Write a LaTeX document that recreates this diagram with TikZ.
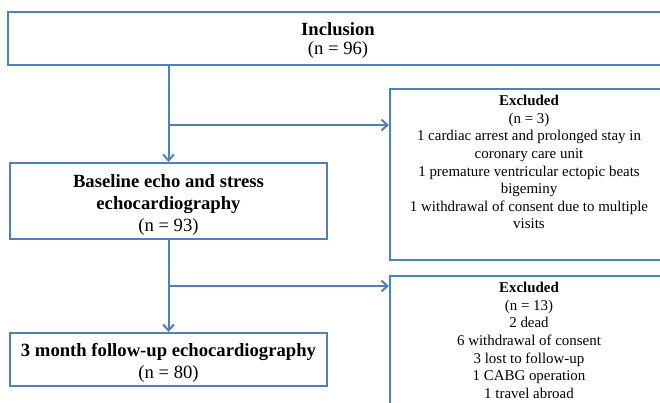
\documentclass[tikz,border=0pt]{standalone}
\usepackage{fontspec}
\setmainfont{Liberation Serif}
\usepackage{xcolor}
\usetikzlibrary{arrows.meta, positioning, calc}
\definecolor{flowblue}{RGB}{79,129,189}

\begin{document}
\begin{tikzpicture}[x=0.75pt, y=-0.75pt,
  box/.style={draw=flowblue, line width=1.5pt, rectangle, align=center, inner ysep=0pt, font=\fontsize{14}{16.5}\selectfont},
  exclbox/.style={draw=flowblue, line width=1.5pt, rectangle, anchor=north west, minimum width=208.5pt},
  excltext/.style={anchor=north, align=center, font=\fontsize{11.2}{13.2}\selectfont},
  flow/.style={-{Straight Barb[length=4.5pt, width=8pt]}, draw=flowblue, line width=1.5pt}]
\useasboundingbox (0,0) rectangle (660,403);
\clip (0,0) rectangle (660,403);

% Main boxes
\node[box, minimum width=495pt, minimum height=39.75pt, font=\fontsize{14}{14.5}\selectfont] (incl) at (338,38.5) {\rule{0pt}{12.5pt}\textbf{Inclusion}\\(n = 96)};

\node[box, minimum width=237.75pt, minimum height=57pt] (base) at (168.5,201) {\rule{0pt}{15.7pt}\textbf{Baseline echo and stress}\\\textbf{echocardiography}\\(n = 93)};

\node[box, minimum width=237.75pt, minimum height=39.75pt] (follow) at (168.5,359.5) {\rule{0pt}{15.7pt}\textbf{3 month follow-up echocardiography}\\(n = 80)};

% Excluded boxes
\node[exclbox, minimum height=128.25pt] (excl1) at (389,88) {};
\node[excltext] (excl1txt) at ([yshift=-2pt]excl1.north) {\textbf{Excluded}\\(n = 3)\\1 cardiac arrest and prolonged stay in\\coronary care unit\\1 premature ventricular ectopic beats\\bigeminy\\1 withdrawal of consent due to multiple\\visits};

\node[exclbox, minimum height=120pt] (excl2) at (389,275) {};
\node[excltext] (excl2txt) at ([yshift=-2pt]excl2.north) {\textbf{Excluded}\\(n = 13)\\2 dead\\6 withdrawal of consent\\3 lost to follow-up\\1 CABG operation\\1 travel abroad};

% Flow
\coordinate (split1) at (168.5,125);
\coordinate (split2) at (168.5,286);
\draw[flow] (incl.south -| base.north) -- (base.north);
\draw[flow] (base.south) -- (follow.north);
\draw[flow] (split1) -- (split1 -| excl1.west);
\draw[flow] (split2) -- (split2 -| excl2.west);

\end{tikzpicture}
\end{document}
